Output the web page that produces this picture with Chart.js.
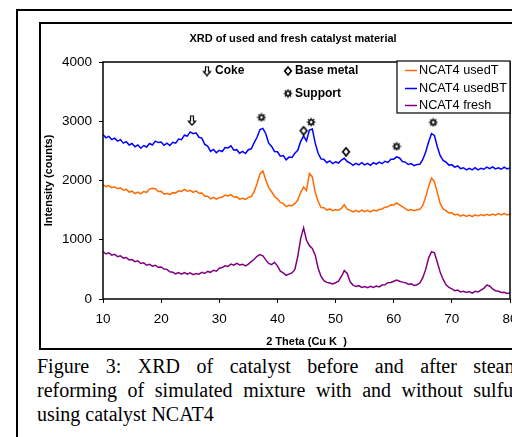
<!DOCTYPE html>
<html>
<head>
<meta charset="utf-8">
<script src="https://cdn.jsdelivr.net/npm/chart.js@4.4.1/dist/chart.umd.min.js"></script>
<style>
  html, body { margin: 0; padding: 0; background: #fff; width: 512px; height: 437px; overflow: hidden; }
  #outer { position: absolute; left: 16px; top: 9px; width: 700px; height: 600px; border-left: 2px solid #000; border-top: 2px solid #000; }
  #frame { position: absolute; left: 39px; top: 22px; width: 700px; height: 324px; border: 2px solid #000; }
  #xrd { position: absolute; left: 40px; top: 23px; }
  #caption { position: absolute; left: 37px; top: 354px; width: 483px; font: 20px "Liberation Serif", "Times New Roman", serif; line-height: 24px; color: #000; }
  #caption div { text-align: justify; text-align-last: justify; white-space: nowrap; }
  #caption div.last { text-align-last: left; }
</style>
</head>
<body>
<div id="outer"></div>
<div id="frame"></div>
<canvas id="xrd" width="500" height="326"></canvas>
<div id="caption">
  <div>Figure 3: XRD of catalyst before and after steam</div>
  <div>reforming of simulated mixture with and without sulfur</div>
  <div class="last">using catalyst NCAT4</div>
</div>
<script>
// ---------------------------
// DATA
// ---------------------------
const chartTitle = "XRD of used and fresh catalyst material";
const xTitle = "2 Theta (Cu K\u00a0\u00a0)";
const yTitle = "Intensity (counts)";
const seriesNames = ["NCAT4 usedT", "NCAT4 usedBT", "NCAT4 fresh"];
const seriesColors = ["#FF6A00", "#0000FF", "#800080"];
const xTicks = [10, 20, 30, 40, 50, 60, 70, 80];
const yTicks = [0, 1000, 2000, 3000, 4000];

const twoTheta = [
  10, 10.5, 11, 11.5, 12, 12.5, 13, 13.5, 14, 14.5,
  15, 15.5, 16, 16.5, 17, 17.5, 18, 18.5, 19, 19.5,
  20, 20.5, 21, 21.5, 22, 22.5, 23, 23.5, 24, 24.5,
  25, 25.5, 26, 26.5, 27, 27.5, 28, 28.5, 29, 29.5,
  30, 30.5, 31, 31.5, 32, 32.5, 33, 33.5, 34, 34.5,
  35, 35.5, 36, 36.5, 37, 37.5, 38, 38.5, 39, 39.5,
  40, 40.5, 41, 41.5, 42, 42.5, 43, 43.5, 44, 44.5,
  45, 45.5, 46, 46.5, 47, 47.5, 48, 48.5, 49, 49.5,
  50, 50.5, 51, 51.5, 52, 52.5, 53, 53.5, 54, 54.5,
  55, 55.5, 56, 56.5, 57, 57.5, 58, 58.5, 59, 59.5,
  60, 60.5, 61, 61.5, 62, 62.5, 63, 63.5, 64, 64.5,
  65, 65.5, 66, 66.5, 67, 67.5, 68, 68.5, 69, 69.5,
  70, 70.5, 71, 71.5, 72, 72.5, 73, 73.5, 74, 74.5,
  75, 75.5, 76, 76.5, 77, 77.5, 78, 78.5, 79, 79.5,
  80
];

const usedT = [
  1930, 1895, 1915, 1880, 1895, 1860, 1875, 1835, 1850, 1805,
  1820, 1780, 1805, 1775, 1815, 1800, 1855, 1870, 1860, 1815,
  1820, 1770, 1785, 1760, 1795, 1790, 1825, 1815, 1850, 1820,
  1835, 1800, 1825, 1785, 1790, 1735, 1735, 1690, 1715, 1685,
  1710, 1720, 1755, 1740, 1760, 1720, 1725, 1685, 1700, 1680,
  1715, 1730, 1810, 1950, 2110, 2160, 2010, 1880, 1810, 1730,
  1690, 1630, 1610, 1560, 1580, 1575, 1610, 1670, 1800, 1890,
  1830, 2120, 2060, 1800, 1650, 1545, 1540, 1500, 1520, 1490,
  1510, 1500, 1530, 1590, 1515, 1495, 1470, 1495, 1470, 1500,
  1475, 1495, 1470, 1500, 1485, 1510, 1520, 1550, 1555, 1590,
  1585, 1620, 1590, 1560, 1525, 1495, 1510, 1490, 1505, 1515,
  1580, 1720, 1900, 2040, 1980, 1800, 1610, 1520, 1490, 1450,
  1455, 1420, 1430, 1400, 1420, 1395, 1415, 1390, 1420, 1400,
  1425, 1405, 1430, 1410, 1435, 1415, 1440, 1420, 1445, 1420,
  1435
];

const usedBT = [
  2775, 2720, 2745, 2690, 2715, 2665, 2690, 2630, 2655, 2600,
  2625, 2570, 2600, 2545, 2590, 2565, 2625, 2600, 2665, 2640,
  2650, 2595, 2630, 2590, 2645, 2630, 2700, 2690, 2765, 2750,
  2820, 2790, 2805, 2730, 2715, 2610, 2580, 2490, 2525, 2470,
  2510, 2490, 2555, 2550, 2585, 2510, 2520, 2460, 2490, 2455,
  2520, 2535, 2640, 2730, 2860, 2880, 2790, 2630, 2575, 2490,
  2485, 2410, 2420, 2350, 2395, 2390, 2460, 2510, 2660, 2750,
  2670, 2850, 2870, 2630, 2460, 2365, 2355, 2300, 2330, 2285,
  2315, 2295, 2345, 2375, 2320, 2295, 2255, 2290, 2265, 2300,
  2265, 2290, 2255, 2300, 2275, 2310, 2285, 2325, 2305, 2360,
  2360, 2400, 2380, 2320, 2310, 2270, 2285, 2250, 2270, 2275,
  2355, 2480, 2650, 2790, 2760, 2570, 2420, 2340, 2310, 2260,
  2265, 2225, 2245, 2200, 2215, 2180, 2205, 2180, 2215, 2180,
  2205, 2190, 2225, 2200, 2230, 2195, 2215, 2190, 2225, 2195,
  2210
];

const fresh = [
  800, 760, 780, 740, 755, 715, 730, 690, 700, 660,
  665, 630, 645, 600, 610, 570, 585, 555, 570, 535,
  540, 505, 500, 460, 450, 425, 445, 420, 445, 420,
  440, 410, 430, 420, 450, 430, 465, 450, 485, 470,
  520, 530, 560, 550, 590, 570, 600, 575, 585, 560,
  590, 630, 670, 720, 750, 730, 660, 600, 580, 620,
  560, 470, 440, 400, 420, 440, 500, 720, 1020, 1200,
  990, 900, 855, 740, 520, 380, 310, 280, 270, 255,
  275, 300, 380, 480, 430, 290, 235, 210, 225, 195,
  210, 190, 215, 195, 220, 205, 235, 240, 275, 280,
  300, 320, 300, 285, 275, 250, 255, 230, 240, 270,
  360, 500, 690, 800, 780, 620, 450, 330, 240, 195,
  170, 140, 150, 120, 130, 110, 125, 100, 130, 120,
  150, 180, 235, 220, 170, 140, 130, 110, 115, 95,
  100
];

// peak markers placed above the usedBT curve
const cokeX = [25.3];
const cokeY = [3010];
const baseMetalX = [44.5, 51.8];
const baseMetalY = [2840, 2485];
const supportX = [37.25, 45.8, 60.5, 66.8];
const supportY = [3065, 2985, 2575, 2980];

// ---------------------------
// MARKER GLYPHS
// ---------------------------
function glyph(w, h, draw) {
  const c = document.createElement("canvas");
  c.width = w; c.height = h;
  const g = c.getContext("2d");
  g.strokeStyle = "#000";
  g.fillStyle = "#000";
  draw(g);
  return c;
}

const arrowImg = glyph(10, 11, g => {
  g.lineWidth = 1.2;
  g.beginPath();
  g.moveTo(3.5, 1); g.lineTo(6.5, 1); g.lineTo(6.5, 6); g.lineTo(8.6, 6);
  g.lineTo(5, 10); g.lineTo(1.4, 6); g.lineTo(3.5, 6); g.closePath();
  g.stroke();
});

const diamondImg = glyph(10, 10, g => {
  g.lineWidth = 1.7;
  g.beginPath();
  g.moveTo(5, 1); g.lineTo(8.3, 5); g.lineTo(5, 9); g.lineTo(1.7, 5); g.closePath();
  g.stroke();
});

const supportImg = glyph(10, 10, g => {
  g.lineWidth = 1.6;
  g.beginPath(); g.arc(5, 5, 2.2, 0, Math.PI * 2); g.stroke();
  g.lineWidth = 1.3;
  for (let k = 0; k < 8; k++) {
    const a = k * Math.PI / 4;
    g.beginPath();
    g.moveTo(5 + Math.cos(a) * 2.6, 5 + Math.sin(a) * 2.6);
    g.lineTo(5 + Math.cos(a) * 4.3, 5 + Math.sin(a) * 4.3);
    g.stroke();
  }
});

function pairs(xs, ys) {
  return xs.map((x, i) => ({ x: x, y: ys[i] }));
}

// ---------------------------
// FRAME, TITLE, KEY AND LEGEND
// ---------------------------
const decor = {
  id: "decor",
  afterDraw(chart) {
    const ctx = chart.ctx;
    const a = chart.chartArea;
    ctx.save();
    ctx.strokeStyle = "#000";
    ctx.lineWidth = 1.5;
    ctx.strokeRect(a.left, a.top, a.right - a.left, a.bottom - a.top);

    ctx.fillStyle = "#000";
    ctx.textBaseline = "middle";
    ctx.textAlign = "center";
    ctx.font = 'bold 11px "Liberation Sans", Arial, sans-serif';
    ctx.fillText(chartTitle, 253, 15.5);

    // symbol key
    ctx.textAlign = "left";
    ctx.font = 'bold 12px "Liberation Sans", Arial, sans-serif';
    ctx.drawImage(arrowImg, 167 - 5, 48 - 5.5);
    ctx.fillText("Coke", 175, 48);
    ctx.drawImage(diamondImg, 248 - 5, 48 - 5);
    ctx.fillText("Base metal", 255, 48);
    ctx.drawImage(supportImg, 248 - 5, 70.5 - 5);
    ctx.fillText("Support", 255, 70.5);

    // legend box
    const bx = 357, by = 38, bw = 113, bh = 52;
    ctx.fillStyle = "#fff";
    ctx.fillRect(bx, by, bw, bh);
    ctx.lineWidth = 1.2;
    ctx.strokeStyle = "#000";
    ctx.strokeRect(bx, by, bw, bh);
    ctx.font = '12.7px "Liberation Sans", Arial, sans-serif';
    const rows = [47.5, 65.5, 82.5];
    seriesNames.forEach((name, i) => {
      ctx.strokeStyle = seriesColors[i];
      ctx.lineWidth = 1.5;
      ctx.beginPath();
      ctx.moveTo(365, rows[i]);
      ctx.lineTo(377, rows[i]);
      ctx.stroke();
      ctx.fillStyle = "#000";
      ctx.fillText(name, 379, rows[i]);
    });
    ctx.restore();
  }
};

// ---------------------------
// CHART
// ---------------------------
const seriesValues = [usedT, usedBT, fresh];

const lineSets = seriesNames.map((name, i) => ({
  label: name,
  data: pairs(twoTheta, seriesValues[i]),
  borderColor: seriesColors[i],
  borderWidth: 1.5,
  pointRadius: 0,
  tension: 0,
  fill: false
}));

const markerSets = [
  { img: arrowImg, xs: cokeX, ys: cokeY },
  { img: diamondImg, xs: baseMetalX, ys: baseMetalY },
  { img: supportImg, xs: supportX, ys: supportY }
].map(m => ({
  type: "scatter",
  data: pairs(m.xs, m.ys),
  pointStyle: m.img,
  pointRadius: 5,
  showLine: false
}));

Chart.defaults.font.family = '"Liberation Sans", Arial, sans-serif';
Chart.defaults.color = "#000";

new Chart(document.getElementById("xrd"), {
  type: "line",
  data: { datasets: markerSets.concat(lineSets) },
  options: {
    responsive: false,
    animation: false,
    events: [],
    layout: { padding: { top: 39, right: 30, left: 0, bottom: 0 } },
    plugins: { legend: { display: false }, tooltip: { enabled: false } },
    scales: {
      x: {
        type: "linear",
        min: xTicks[0],
        max: xTicks[xTicks.length - 1],
        afterBuildTicks: s => { s.ticks = xTicks.map(v => ({ value: v })); },
        afterFit: s => { s.height = 50; },
        ticks: { font: { size: 13.5 }, padding: 8, maxRotation: 0, callback: v => String(v) },
        grid: { drawOnChartArea: false, tickLength: 4, color: "#000" },
        border: { display: false },
        title: { display: true, text: xTitle, font: { size: 11, weight: "bold" }, padding: { top: 0, bottom: 0.7 } }
      },
      y: {
        min: yTicks[0],
        max: yTicks[yTicks.length - 1],
        afterBuildTicks: s => { s.ticks = yTicks.map(v => ({ value: v })); },
        afterFit: s => { s.width = 63; },
        ticks: { font: { size: 13.5 }, padding: 7, callback: v => String(v) },
        grid: { drawOnChartArea: false, tickLength: 4, color: "#000" },
        border: { display: false },
        title: { display: true, text: yTitle, font: { size: 11, weight: "bold" }, padding: { top: 2.4, bottom: 0 } }
      }
    }
  },
  plugins: [decor]
});
</script>
</body>
</html>
